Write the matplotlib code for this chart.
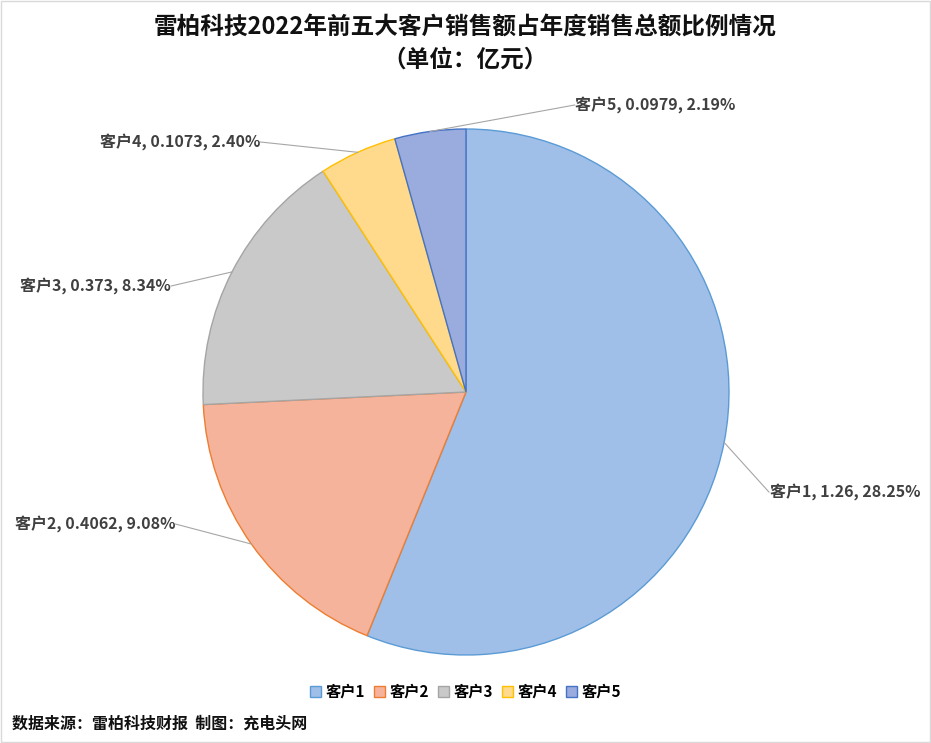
import numpy as np
import matplotlib
matplotlib.use('Agg')
import matplotlib.pyplot as plt
from matplotlib.patches import Rectangle

plt.rcParams['font.family'] = ['Noto Sans CJK SC', 'DejaVu Sans']

names = ['客户1', '客户2', '客户3', '客户4', '客户5']
values = [1.26, 0.4062, 0.373, 0.1073, 0.0979]
pcts = ['28.25%', '9.08%', '8.34%', '2.40%', '2.19%']
value_text = ['1.26', '0.4062', '0.373', '0.1073', '0.0979']

face = ['#9fbfe8', '#f5b39b', '#c9c9c9', '#ffd98c', '#9aabde']
edge = ['#5b9bd5', '#ed7d31', '#a5a5a5', '#ffc000', '#4472c4']

# label text positions in figure pixels (x, y from top)
label_pos = [(845, 492), (95, 524), (95, 286), (180, 142), (655, 105)]
label_ha = ['center', 'center', 'center', 'center', 'center']

W, H = 931, 743
fig = plt.figure(figsize=(W / 100, H / 100), dpi=100)
fig.patches.append(Rectangle((0.001, 0.001), 0.998, 0.998, transform=fig.transFigure,
                             fill=False, edgecolor='#d9d9d9', lw=1))

cx, cy, r = 466, 392, 263
ax = fig.add_axes([(cx - r) / W, (H - cy - r) / H, 2 * r / W, 2 * r / H])
wedges, _ = ax.pie(values, startangle=90, counterclock=False, colors=face,
                   wedgeprops=dict(linewidth=1))
for w, e in zip(wedges, edge):
    w.set_edgecolor(e)
ax.set_xlim(-1, 1)
ax.set_ylim(-1, 1)
ax.set_aspect('equal')
ax.axis('off')

for i, w in enumerate(wedges):
    ang = np.deg2rad((w.theta1 + w.theta2) / 2)
    px = cx + r * np.cos(ang)
    py = cy - r * np.sin(ang)
    tx, ty = label_pos[i]
    txt = f'{names[i]}, {value_text[i]}, {pcts[i]}'
    fig.text(tx / W, 1 - ty / H, txt, ha=label_ha[i], va='center', fontsize=11.5,
             fontweight='bold', color='#404040')
    # leader line end near the text
    half = len(txt) * 4.3
    ex = tx - half - 3 if px < tx else tx + half + 3
    if i in (3, 4):
        ex = tx + half + 3 if i == 3 else tx - half - 3
    fig.add_artist(plt.Line2D([px / W, ex / W], [1 - py / H, 1 - ty / H],
                              color='#a6a6a6', lw=0.8))

fig.text(0.5, 1 - 27 / H, '雷柏科技2022年前五大客户销售额占年度销售总额比例情况',
         ha='center', va='center', fontsize=17, fontweight='bold', color='#111111')
fig.text(0.5, 1 - 60 / H, '（单位：亿元）', ha='center', va='center', fontsize=17,
         fontweight='bold', color='#111111')

handles = [Rectangle((0, 0), 1, 1, facecolor=f, edgecolor=e) for f, e in zip(face, edge)]
fig.legend(handles, names, loc='center', bbox_to_anchor=(0.5, 1 - 692 / H), ncol=5,
           frameon=False, fontsize=11, handlelength=0.7, handleheight=0.7,
           columnspacing=0.6, handletextpad=0.3, prop=dict(weight='bold', size=11))

fig.text(12 / W, 1 - 724 / H, '数据来源：雷柏科技财报  制图：充电头网', ha='left', va='center',
         fontsize=11.5, fontweight='bold', color='#111111')

fig.savefig('out.png', dpi=100)
